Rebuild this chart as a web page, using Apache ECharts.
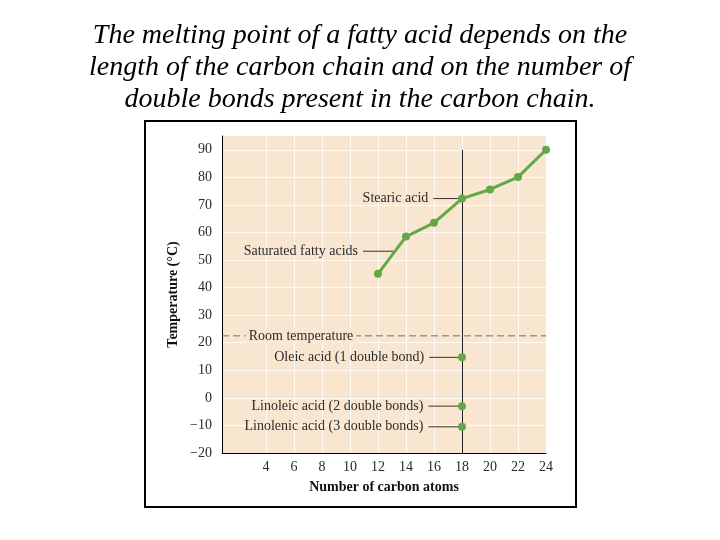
<!DOCTYPE html>
<html>
<head>
<meta charset="utf-8">
<script src="https://cdn.jsdelivr.net/npm/echarts@6/dist/echarts.min.js"></script>
<style>
  html, body { margin: 0; padding: 0; background: #fff; }
  #chart { width: 720px; height: 540px; }
</style>
</head>
<body>
<div id="chart"></div>
<script>
const carbonAtoms = [12, 14, 16, 18, 20, 22, 24];
const saturatedMp = [45, 58.5, 63.5, 72.3, 75.6, 80.1, 90];

const unsaturatedCarbons = [18, 18, 18];
const unsaturatedMp = [14.7, -3, -10.5];
const unsaturatedNames = [
    'Oleic acid (1 double bond)',
    'Linoleic acid (2 double bonds)',
    'Linolenic acid (3 double bonds)'
];

const roomTemperature = 22.5;
const roomLabelX = 6.5;

// callouts: label, y, leader start x, leader end x
const calloutLabels = ['Stearic acid', 'Saturated fatty acids'].concat(unsaturatedNames);
const calloutY = [72.3, 53.2, 14.7, -3, -10.5];
const calloutFromX = [15.95, 10.93, 15.66, 15.6, 15.6];
const calloutToX = [18, 13.1, 18, 18, 18];

const xTicks = [4, 6, 8, 10, 12, 14, 16, 18, 20, 22, 24];
const yTicks = [-20, -10, 0, 10, 20, 30, 40, 50, 60, 70, 80, 90];

const serif = '"Liberation Serif", "DejaVu Serif", serif';
const plotBg = '#f9e6d0';
const green = '#63a846';
const textColor = '#2b2b2b';

const chart = echarts.init(document.getElementById('chart'));

const option = {
    backgroundColor: '#fff',
    animation: false,
    graphic: [
        {
            type: 'rect',
            z: -10,
            silent: true,
            shape: { x: 145, y: 121, width: 431, height: 386 },
            style: { fill: '#fff', stroke: '#000', lineWidth: 2 }
        },
        {
            type: 'text',
            x: 360,
            y: 20,
            silent: true,
            style: {
                text: 'The melting point of a fatty acid depends on the\nlength of the carbon chain and on the number of\ndouble bonds present in the carbon chain.',
                align: 'center',
                verticalAlign: 'top',
                font: 'italic 28px ' + serif,
                lineHeight: 32,
                fill: '#000'
            }
        }
    ],
    grid: {
        left: 222,
        right: 174,
        top: 136,
        bottom: 87,
        show: true,
        backgroundColor: plotBg,
        borderWidth: 0
    },
    xAxis: {
        type: 'value',
        min: 0.86,
        max: 24,
        name: 'Number of carbon atoms',
        nameLocation: 'middle',
        nameGap: 27,
        nameTextStyle: { fontFamily: serif, fontWeight: 'bold', fontSize: 14, color: '#111' },
        axisLine: { show: true, onZero: false, lineStyle: { color: '#000', width: 1 } },
        axisTick: { show: false, customValues: xTicks },
        axisLabel: {
            customValues: xTicks,
            margin: 7,
            fontFamily: serif,
            fontSize: 14,
            color: textColor
        },
        splitLine: { show: true, lineStyle: { color: 'rgba(255,255,255,0.8)', width: 1 } }
    },
    yAxis: {
        type: 'value',
        min: -20,
        max: 95,
        name: 'Temperature (°C)',
        nameLocation: 'middle',
        nameGap: 42,
        nameTextStyle: { fontFamily: serif, fontWeight: 'bold', fontSize: 14, color: '#111' },
        axisLine: { show: true, onZero: false, lineStyle: { color: '#000', width: 1 } },
        axisTick: { show: false, customValues: yTicks },
        axisLabel: {
            customValues: yTicks,
            margin: 10,
            fontFamily: serif,
            fontSize: 14,
            color: textColor,
            formatter: (v) => (v < 0 ? '\u2212' + Math.abs(v) : String(v))
        },
        splitLine: { show: true, lineStyle: { color: 'rgba(255,255,255,0.8)', width: 1 } }
    },
    series: [
        {
            type: 'line',
            name: 'Saturated fatty acids',
            data: carbonAtoms.map((c, i) => [c, saturatedMp[i]]),
            symbol: 'circle',
            symbolSize: 8,
            clip: false,
            z: 5,
            lineStyle: { color: green, width: 3 },
            itemStyle: { color: green },
            markLine: {
                silent: true,
                symbol: 'none',
                label: { show: false },
                lineStyle: { color: '#222', width: 1, type: 'solid' },
                data: [[{ coord: [18, 90] }, { coord: [18, -20] }]]
            }
        },
        {
            type: 'scatter',
            name: 'Unsaturated fatty acids',
            data: unsaturatedCarbons.map((c, i) => [c, unsaturatedMp[i]]),
            symbol: 'circle',
            symbolSize: 8,
            z: 6,
            itemStyle: { color: green, opacity: 1 }
        },
        {
            type: 'custom',
            name: 'callouts',
            silent: true,
            z: 4,
            data: calloutLabels.map((t, i) => [calloutFromX[i], calloutY[i], calloutToX[i], i]),
            encode: { x: [0, 2], y: 1 },
            renderItem: (params, api) => {
                const p1 = api.coord([api.value(0), api.value(1)]);
                const p2 = api.coord([api.value(2), api.value(1)]);
                return {
                    type: 'group',
                    children: [
                        {
                            type: 'line',
                            shape: { x1: p1[0], y1: p1[1], x2: p2[0], y2: p2[1] },
                            style: { stroke: '#333', lineWidth: 1 }
                        },
                        {
                            type: 'text',
                            x: p1[0] - 5,
                            y: p1[1],
                            style: {
                                text: calloutLabels[api.value(3)],
                                align: 'right',
                                verticalAlign: 'middle',
                                font: '14px ' + serif,
                                fill: textColor
                            }
                        }
                    ]
                };
            }
        },
        {
            type: 'custom',
            name: 'Room temperature',
            silent: true,
            z: 3,
            data: [[0.86, roomTemperature, 24, roomLabelX]],
            encode: { x: [0, 2, 3], y: 1 },
            renderItem: (params, api) => {
                const p1 = api.coord([api.value(0), api.value(1)]);
                const p2 = api.coord([api.value(2), api.value(1)]);
                const pt = api.coord([api.value(3), api.value(1)]);
                return {
                    type: 'group',
                    children: [
                        {
                            type: 'line',
                            shape: { x1: p1[0], y1: p1[1], x2: p2[0], y2: p2[1] },
                            style: { stroke: '#6f6f6f', lineWidth: 1, lineDash: [7, 4] }
                        },
                        {
                            type: 'text',
                            x: pt[0],
                            y: pt[1],
                            z2: 10,
                            style: {
                                text: 'Room temperature',
                                align: 'center',
                                verticalAlign: 'middle',
                                font: '14px ' + serif,
                                fill: textColor,
                                backgroundColor: plotBg,
                                padding: [0, 3]
                            }
                        }
                    ]
                };
            }
        }
    ]
};

chart.setOption(option);
</script>
</body>
</html>
